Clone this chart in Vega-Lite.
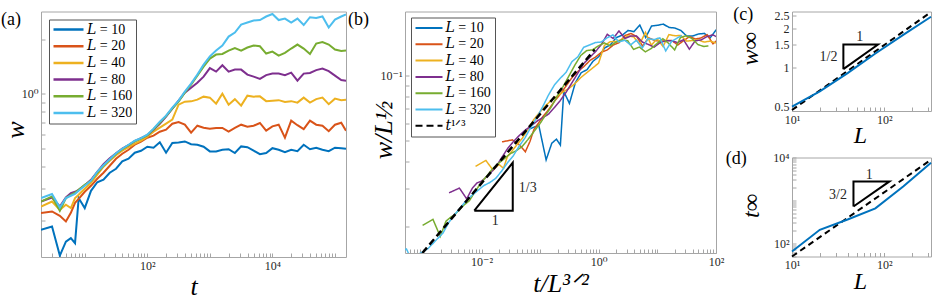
{
"$schema":"https://vega.github.io/schema/vega-lite/v6.json",
"padding":{"left":0,"top":4.5,"right":0,"bottom":0},
"spacing":0,
"bounds":"full",
"resolve":{"scale":{"color":"independent","strokeDash":"independent"}},
"config":{
 "view":{"stroke":"#a6a6a6","strokeWidth":1},
 "axis":{"domain":false,"grid":false,"tickColor":"#a6a6a6","tickSize":-4,"tickWidth":1,"labelFont":"Liberation Serif, DejaVu Serif, serif","labelFontSize":12,"labelColor":"#262626","labelPadding":7,"labelFlush":false,"labelOverlap":false,"labelBound":false,"titleFont":"Liberation Serif, DejaVu Serif, serif","titleFontStyle":"italic","titleFontWeight":"normal","titleFontSize":26,"titleColor":"#000000","titleBaseline":"alphabetic"},
 "title":{"font":"Liberation Serif, DejaVu Serif, serif","fontSize":18,"fontWeight":"normal","anchor":"start","frame":"group","baseline":"top","color":"#000000"},
 "legend":{"title":null,"symbolType":"stroke","symbolStrokeWidth":2,"labelFont":"Liberation Serif, DejaVu Serif, serif","labelFontSize":14,"labelColor":"#000000","fillColor":"#ffffff","strokeColor":"#555555","clipHeight":14,"labelOffset":2,"labelLimit":0}
},
"datasets":{
"curves":[
{"series":"L = 10","L":10,"t":2,"w":0.1779},{"series":"L = 10","L":10,"t":3,"w":0.1855},{"series":"L = 10","L":10,"t":4,"w":0.1283},{"series":"L = 10","L":10,"t":5,"w":0.1533},{"series":"L = 10","L":10,"t":6,"w":0.1601},{"series":"L = 10","L":10,"t":7,"w":0.1502},{"series":"L = 10","L":10,"t":8,"w":0.2663},{"series":"L = 10","L":10,"t":10,"w":0.2345},{"series":"L = 10","L":10,"t":12.59,"w":0.2922},{"series":"L = 10","L":10,"t":15.85,"w":0.3256},{"series":"L = 10","L":10,"t":19.95,"w":0.3362},{"series":"L = 10","L":10,"t":25.12,"w":0.3675},{"series":"L = 10","L":10,"t":31.62,"w":0.3867},{"series":"L = 10","L":10,"t":39.81,"w":0.4242},{"series":"L = 10","L":10,"t":50.12,"w":0.439},{"series":"L = 10","L":10,"t":63.1,"w":0.4739},{"series":"L = 10","L":10,"t":79.43,"w":0.4861},{"series":"L = 10","L":10,"t":100,"w":0.5115},{"series":"L = 10","L":10,"t":125.9,"w":0.505},{"series":"L = 10","L":10,"t":158.5,"w":0.5416},{"series":"L = 10","L":10,"t":199.5,"w":0.4739},{"series":"L = 10","L":10,"t":251.2,"w":0.5361},{"series":"L = 10","L":10,"t":316.2,"w":0.5402},{"series":"L = 10","L":10,"t":398.1,"w":0.5471},{"series":"L = 10","L":10,"t":501.2,"w":0.528},{"series":"L = 10","L":10,"t":631,"w":0.5246},{"series":"L = 10","L":10,"t":794.3,"w":0.5115},{"series":"L = 10","L":10,"t":1000,"w":0.4818},{"series":"L = 10","L":10,"t":1259,"w":0.4818},{"series":"L = 10","L":10,"t":1585,"w":0.4923},{"series":"L = 10","L":10,"t":1995,"w":0.4955},{"series":"L = 10","L":10,"t":2512,"w":0.4721},{"series":"L = 10","L":10,"t":3162,"w":0.5135},{"series":"L = 10","L":10,"t":3981,"w":0.5083},{"series":"L = 10","L":10,"t":5012,"w":0.4861},{"series":"L = 10","L":10,"t":6310,"w":0.465},{"series":"L = 10","L":10,"t":7943,"w":0.4721},{"series":"L = 10","L":10,"t":10000,"w":0.5019},{"series":"L = 10","L":10,"t":12589,"w":0.4923},{"series":"L = 10","L":10,"t":15849,"w":0.4769},{"series":"L = 10","L":10,"t":19953,"w":0.4923},{"series":"L = 10","L":10,"t":25119,"w":0.4831},{"series":"L = 10","L":10,"t":31623,"w":0.5246},{"series":"L = 10","L":10,"t":39811,"w":0.4955},{"series":"L = 10","L":10,"t":50119,"w":0.505},{"series":"L = 10","L":10,"t":63096,"w":0.4923},{"series":"L = 10","L":10,"t":79433,"w":0.4831},{"series":"L = 10","L":10,"t":100000,"w":0.505},{"series":"L = 10","L":10,"t":125893,"w":0.5019},{"series":"L = 10","L":10,"t":150000,"w":0.4987},
{"series":"L = 20","L":20,"t":2,"w":0.22},{"series":"L = 20","L":20,"t":3,"w":0.2246},{"series":"L = 20","L":20,"t":4,"w":0.2126},{"series":"L = 20","L":20,"t":5,"w":0.1978},{"series":"L = 20","L":20,"t":6,"w":0.2209},{"series":"L = 20","L":20,"t":7,"w":0.2508},{"series":"L = 20","L":20,"t":8,"w":0.2639},{"series":"L = 20","L":20,"t":10,"w":0.2885},{"series":"L = 20","L":20,"t":12.59,"w":0.3113},{"series":"L = 20","L":20,"t":15.85,"w":0.3404},{"series":"L = 20","L":20,"t":19.95,"w":0.3675},{"series":"L = 20","L":20,"t":25.12,"w":0.4018},{"series":"L = 20","L":20,"t":31.62,"w":0.439},{"series":"L = 20","L":20,"t":39.81,"w":0.468},{"series":"L = 20","L":20,"t":50.12,"w":0.4923},{"series":"L = 20","L":20,"t":63.1,"w":0.5246},{"series":"L = 20","L":20,"t":79.43,"w":0.5451},{"series":"L = 20","L":20,"t":100,"w":0.5736},{"series":"L = 20","L":20,"t":125.9,"w":0.5883},{"series":"L = 20","L":20,"t":158.5,"w":0.6191},{"series":"L = 20","L":20,"t":199.5,"w":0.6351},{"series":"L = 20","L":20,"t":251.2,"w":0.6853},{"series":"L = 20","L":20,"t":316.2,"w":0.7003},{"series":"L = 20","L":20,"t":398.1,"w":0.6767},{"series":"L = 20","L":20,"t":501.2,"w":0.6113},{"series":"L = 20","L":20,"t":631,"w":0.6681},{"series":"L = 20","L":20,"t":794.3,"w":0.6514},{"series":"L = 20","L":20,"t":1000,"w":0.6432},{"series":"L = 20","L":20,"t":1259,"w":0.649},{"series":"L = 20","L":20,"t":1585,"w":0.649},{"series":"L = 20","L":20,"t":1995,"w":0.6191},{"series":"L = 20","L":20,"t":2512,"w":0.649},{"series":"L = 20","L":20,"t":3162,"w":0.6767},{"series":"L = 20","L":20,"t":3981,"w":0.6597},{"series":"L = 20","L":20,"t":5012,"w":0.6681},{"series":"L = 20","L":20,"t":6310,"w":0.6915},{"series":"L = 20","L":20,"t":7943,"w":0.627},{"series":"L = 20","L":20,"t":10000,"w":0.6622},{"series":"L = 20","L":20,"t":12589,"w":0.6767},{"series":"L = 20","L":20,"t":15849,"w":0.5736},{"series":"L = 20","L":20,"t":19953,"w":0.712},{"series":"L = 20","L":20,"t":25119,"w":0.6723},{"series":"L = 20","L":20,"t":31623,"w":0.6391},{"series":"L = 20","L":20,"t":39811,"w":0.712},{"series":"L = 20","L":20,"t":50119,"w":0.6767},{"series":"L = 20","L":20,"t":63096,"w":0.6681},{"series":"L = 20","L":20,"t":79433,"w":0.6231},{"series":"L = 20","L":20,"t":100000,"w":0.6767},{"series":"L = 20","L":20,"t":125893,"w":0.6941},{"series":"L = 20","L":20,"t":150000,"w":0.627},
{"series":"L = 40","L":40,"t":2,"w":0.2393},{"series":"L = 40","L":40,"t":3,"w":0.2551},{"series":"L = 40","L":40,"t":4,"w":0.2295},{"series":"L = 40","L":40,"t":5,"w":0.2446},{"series":"L = 40","L":40,"t":6,"w":0.2345},{"series":"L = 40","L":40,"t":7,"w":0.2663},{"series":"L = 40","L":40,"t":8,"w":0.2778},{"series":"L = 40","L":40,"t":10,"w":0.2998},{"series":"L = 40","L":40,"t":12.59,"w":0.3236},{"series":"L = 40","L":40,"t":15.85,"w":0.3583},{"series":"L = 40","L":40,"t":19.95,"w":0.3966},{"series":"L = 40","L":40,"t":25.12,"w":0.428},{"series":"L = 40","L":40,"t":31.62,"w":0.4592},{"series":"L = 40","L":40,"t":39.81,"w":0.4861},{"series":"L = 40","L":40,"t":50.12,"w":0.5083},{"series":"L = 40","L":40,"t":63.1,"w":0.5313},{"series":"L = 40","L":40,"t":79.43,"w":0.5521},{"series":"L = 40","L":40,"t":100,"w":0.5809},{"series":"L = 40","L":40,"t":125.9,"w":0.6191},{"series":"L = 40","L":40,"t":158.5,"w":0.6514},{"series":"L = 40","L":40,"t":199.5,"w":0.6853},{"series":"L = 40","L":40,"t":251.2,"w":0.7211},{"series":"L = 40","L":40,"t":316.2,"w":0.8728},{"series":"L = 40","L":40,"t":398.1,"w":0.9067},{"series":"L = 40","L":40,"t":501.2,"w":0.9101},{"series":"L = 40","L":40,"t":631,"w":0.9301},{"series":"L = 40","L":40,"t":794.3,"w":0.9663},{"series":"L = 40","L":40,"t":1000,"w":0.9541},{"series":"L = 40","L":40,"t":1259,"w":0.8839},{"series":"L = 40","L":40,"t":1585,"w":1.0025},{"series":"L = 40","L":40,"t":1995,"w":0.8728},{"series":"L = 40","L":40,"t":2512,"w":0.936},{"series":"L = 40","L":40,"t":3162,"w":0.8619},{"series":"L = 40","L":40,"t":3981,"w":0.9786},{"series":"L = 40","L":40,"t":5012,"w":0.9663},{"series":"L = 40","L":40,"t":6310,"w":0.9699},{"series":"L = 40","L":40,"t":7943,"w":0.9125},{"series":"L = 40","L":40,"t":10000,"w":0.9183},{"series":"L = 40","L":40,"t":12589,"w":0.9241},{"series":"L = 40","L":40,"t":15849,"w":0.9033},{"series":"L = 40","L":40,"t":19953,"w":0.9125},{"series":"L = 40","L":40,"t":25119,"w":0.8953},{"series":"L = 40","L":40,"t":31623,"w":0.9541},{"series":"L = 40","L":40,"t":39811,"w":0.8953},{"series":"L = 40","L":40,"t":50119,"w":0.936},{"series":"L = 40","L":40,"t":63096,"w":0.9541},{"series":"L = 40","L":40,"t":79433,"w":0.8783},{"series":"L = 40","L":40,"t":100000,"w":0.942},{"series":"L = 40","L":40,"t":125893,"w":0.9241},{"series":"L = 40","L":40,"t":150000,"w":0.9301},
{"series":"L = 80","L":80,"t":2,"w":0.2551},{"series":"L = 80","L":80,"t":3,"w":0.2684},{"series":"L = 80","L":80,"t":4,"w":0.2393},{"series":"L = 80","L":80,"t":5,"w":0.2684},{"series":"L = 80","L":80,"t":6,"w":0.2838},{"series":"L = 80","L":80,"t":7,"w":0.2885},{"series":"L = 80","L":80,"t":8,"w":0.296},{"series":"L = 80","L":80,"t":10,"w":0.3134},{"series":"L = 80","L":80,"t":12.59,"w":0.3362},{"series":"L = 80","L":80,"t":15.85,"w":0.3721},{"series":"L = 80","L":80,"t":19.95,"w":0.4095},{"series":"L = 80","L":80,"t":25.12,"w":0.4419},{"series":"L = 80","L":80,"t":31.62,"w":0.471},{"series":"L = 80","L":80,"t":39.81,"w":0.4987},{"series":"L = 80","L":80,"t":50.12,"w":0.5213},{"series":"L = 80","L":80,"t":63.1,"w":0.5486},{"series":"L = 80","L":80,"t":79.43,"w":0.5699},{"series":"L = 80","L":80,"t":100,"w":0.5921},{"series":"L = 80","L":80,"t":125.9,"w":0.6351},{"series":"L = 80","L":80,"t":158.5,"w":0.6853},{"series":"L = 80","L":80,"t":199.5,"w":0.7492},{"series":"L = 80","L":80,"t":251.2,"w":0.8295},{"series":"L = 80","L":80,"t":316.2,"w":0.9183},{"series":"L = 80","L":80,"t":398.1,"w":1.017},{"series":"L = 80","L":80,"t":501.2,"w":1.083},{"series":"L = 80","L":80,"t":631,"w":1.154},{"series":"L = 80","L":80,"t":794.3,"w":1.246},{"series":"L = 80","L":80,"t":1000,"w":1.388},{"series":"L = 80","L":80,"t":1259,"w":1.328},{"series":"L = 80","L":80,"t":1585,"w":1.439},{"series":"L = 80","L":80,"t":1995,"w":1.328},{"series":"L = 80","L":80,"t":2512,"w":1.362},{"series":"L = 80","L":80,"t":3162,"w":1.362},{"series":"L = 80","L":80,"t":3981,"w":1.278},{"series":"L = 80","L":80,"t":5012,"w":1.246},{"series":"L = 80","L":80,"t":6310,"w":1.21},{"series":"L = 80","L":80,"t":7943,"w":1.27},{"series":"L = 80","L":80,"t":10000,"w":1.295},{"series":"L = 80","L":80,"t":12589,"w":1.295},{"series":"L = 80","L":80,"t":15849,"w":1.27},{"series":"L = 80","L":80,"t":19953,"w":1.311},{"series":"L = 80","L":80,"t":25119,"w":1.184},{"series":"L = 80","L":80,"t":31623,"w":1.295},{"series":"L = 80","L":80,"t":39811,"w":1.306},{"series":"L = 80","L":80,"t":50119,"w":1.354},{"series":"L = 80","L":80,"t":63096,"w":1.38},{"series":"L = 80","L":80,"t":79433,"w":1.336},{"series":"L = 80","L":80,"t":100000,"w":1.262},{"series":"L = 80","L":80,"t":125893,"w":1.192},{"series":"L = 80","L":80,"t":150000,"w":1.184},
{"series":"L = 160","L":160,"t":2,"w":0.2551},{"series":"L = 160","L":160,"t":3,"w":0.2719},{"series":"L = 160","L":160,"t":4,"w":0.2265},{"series":"L = 160","L":160,"t":5,"w":0.2663},{"series":"L = 160","L":160,"t":6,"w":0.2778},{"series":"L = 160","L":160,"t":7,"w":0.285},{"series":"L = 160","L":160,"t":8,"w":0.296},{"series":"L = 160","L":160,"t":10,"w":0.3154},{"series":"L = 160","L":160,"t":12.59,"w":0.3319},{"series":"L = 160","L":160,"t":15.85,"w":0.3675},{"series":"L = 160","L":160,"t":19.95,"w":0.4018},{"series":"L = 160","L":160,"t":25.12,"w":0.4335},{"series":"L = 160","L":160,"t":31.62,"w":0.468},{"series":"L = 160","L":160,"t":39.81,"w":0.4955},{"series":"L = 160","L":160,"t":50.12,"w":0.5213},{"series":"L = 160","L":160,"t":63.1,"w":0.5486},{"series":"L = 160","L":160,"t":79.43,"w":0.5662},{"series":"L = 160","L":160,"t":100,"w":0.5921},{"series":"L = 160","L":160,"t":125.9,"w":0.6391},{"series":"L = 160","L":160,"t":158.5,"w":0.6941},{"series":"L = 160","L":160,"t":199.5,"w":0.754},{"series":"L = 160","L":160,"t":251.2,"w":0.8295},{"series":"L = 160","L":160,"t":316.2,"w":0.9067},{"series":"L = 160","L":160,"t":398.1,"w":1.017},{"series":"L = 160","L":160,"t":501.2,"w":1.126},{"series":"L = 160","L":160,"t":631,"w":1.262},{"series":"L = 160","L":160,"t":794.3,"w":1.415},{"series":"L = 160","L":160,"t":1000,"w":1.567},{"series":"L = 160","L":160,"t":1259,"w":1.649},{"series":"L = 160","L":160,"t":1585,"w":1.663},{"series":"L = 160","L":160,"t":1995,"w":1.735},{"series":"L = 160","L":160,"t":2512,"w":1.791},{"series":"L = 160","L":160,"t":3162,"w":1.735},{"series":"L = 160","L":160,"t":3981,"w":1.803},{"series":"L = 160","L":160,"t":5012,"w":1.849},{"series":"L = 160","L":160,"t":6310,"w":1.832},{"series":"L = 160","L":160,"t":7943,"w":1.67},{"series":"L = 160","L":160,"t":10000,"w":1.713},{"series":"L = 160","L":160,"t":12589,"w":1.628},{"series":"L = 160","L":160,"t":15849,"w":1.685},{"series":"L = 160","L":160,"t":19953,"w":1.78},{"series":"L = 160","L":160,"t":25119,"w":1.873},{"series":"L = 160","L":160,"t":31623,"w":1.78},{"series":"L = 160","L":160,"t":39811,"w":1.66},{"series":"L = 160","L":160,"t":50119,"w":1.896},{"series":"L = 160","L":160,"t":63096,"w":1.933},{"series":"L = 160","L":160,"t":79433,"w":1.873},{"series":"L = 160","L":160,"t":100000,"w":1.757},{"series":"L = 160","L":160,"t":125893,"w":1.724},{"series":"L = 160","L":160,"t":150000,"w":1.735},
{"series":"L = 320","L":320,"t":2,"w":0.2663},{"series":"L = 320","L":320,"t":3,"w":0.2803},{"series":"L = 320","L":320,"t":4,"w":0.2363},{"series":"L = 320","L":320,"t":5,"w":0.2663},{"series":"L = 320","L":320,"t":6,"w":0.2743},{"series":"L = 320","L":320,"t":7,"w":0.2813},{"series":"L = 320","L":320,"t":8,"w":0.2922},{"series":"L = 320","L":320,"t":10,"w":0.3113},{"series":"L = 320","L":320,"t":12.59,"w":0.3319},{"series":"L = 320","L":320,"t":15.85,"w":0.3721},{"series":"L = 320","L":320,"t":19.95,"w":0.4043},{"series":"L = 320","L":320,"t":25.12,"w":0.4363},{"series":"L = 320","L":320,"t":31.62,"w":0.471},{"series":"L = 320","L":320,"t":39.81,"w":0.4987},{"series":"L = 320","L":320,"t":50.12,"w":0.5246},{"series":"L = 320","L":320,"t":63.1,"w":0.5521},{"series":"L = 320","L":320,"t":79.43,"w":0.5699},{"series":"L = 320","L":320,"t":100,"w":0.5958},{"series":"L = 320","L":320,"t":125.9,"w":0.6432},{"series":"L = 320","L":320,"t":158.5,"w":0.7031},{"series":"L = 320","L":320,"t":199.5,"w":0.7588},{"series":"L = 320","L":320,"t":251.2,"w":0.8401},{"series":"L = 320","L":320,"t":316.2,"w":0.9183},{"series":"L = 320","L":320,"t":398.1,"w":1.03},{"series":"L = 320","L":320,"t":501.2,"w":1.14},{"series":"L = 320","L":320,"t":631,"w":1.278},{"series":"L = 320","L":320,"t":794.3,"w":1.451},{"series":"L = 320","L":320,"t":1000,"w":1.613},{"series":"L = 320","L":320,"t":1259,"w":1.735},{"series":"L = 320","L":320,"t":1585,"w":1.849},{"series":"L = 320","L":320,"t":1995,"w":2.073},{"series":"L = 320","L":320,"t":2512,"w":2.182},{"series":"L = 320","L":320,"t":3162,"w":2.415},{"series":"L = 320","L":320,"t":3981,"w":2.477},{"series":"L = 320","L":320,"t":5012,"w":2.541},{"series":"L = 320","L":320,"t":6310,"w":2.557},{"series":"L = 320","L":320,"t":7943,"w":2.674},{"series":"L = 320","L":320,"t":10000,"w":2.76},{"series":"L = 320","L":320,"t":12589,"w":2.557},{"series":"L = 320","L":320,"t":15849,"w":2.606},{"series":"L = 320","L":320,"t":19953,"w":2.477},{"series":"L = 320","L":320,"t":25119,"w":2.606},{"series":"L = 320","L":320,"t":31623,"w":2.399},{"series":"L = 320","L":320,"t":39811,"w":2.65},{"series":"L = 320","L":320,"t":50119,"w":2.623},{"series":"L = 320","L":320,"t":63096,"w":2.674},{"series":"L = 320","L":320,"t":79433,"w":2.325},{"series":"L = 320","L":320,"t":100000,"w":2.573},{"series":"L = 320","L":320,"t":125893,"w":2.674},{"series":"L = 320","L":320,"t":150000,"w":2.743}
],
"b_fit":[{"series":"t¹ᐟ³","x":0.00098,"y":0.015},{"series":"t¹ᐟ³","x":0.855,"y":0.132}],
"b_tri":[{"k":0,"x":0.00753,"y":0.02357},{"k":1,"x":0.0341,"y":0.02357},{"k":2,"x":0.0341,"y":0.03937},{"k":3,"x":0.00753,"y":0.02357}],
"b_txt":[{"x":0.0616,"y":0.0302,"label":"1/3"},{"x":0.0172,"y":0.0212,"label":"1"}],
"c_sim":[{"L":10,"w":0.5},{"L":20,"w":0.655},{"L":40,"w":0.905},{"L":80,"w":1.28},{"L":160,"w":1.78},{"L":320,"w":2.45}],
"c_fit":[{"L":10,"w":0.471},{"L":320,"w":2.66}],
"c_tri":[{"k":0,"L":36,"w":0.97},{"k":1,"L":36,"w":1.5},{"k":2,"L":85.3,"w":1.5},{"k":3,"L":36,"w":0.97}],
"c_txt":[{"L":54.2,"w":1.72,"label":"1"},{"L":24.8,"w":1.2,"label":"1/2"}],
"d_sim":[{"L":10,"t":64},{"L":20,"t":205},{"L":40,"t":358},{"L":80,"t":650},{"L":160,"t":2113},{"L":320,"t":7500}],
"d_fit":[{"L":10,"t":48.9},{"L":320,"t":8852}],
"d_tri":[{"k":0,"L":46.3,"t":720},{"k":1,"L":46.3,"t":2767},{"k":2,"L":113.6,"t":2767},{"k":3,"L":46.3,"t":720}],
"d_txt":[{"L":68.5,"t":3963,"label":"1"},{"L":31.5,"t":1352,"label":"3/2"}]
},
"hconcat":[
{
 "width":305,"height":245.5,
 "title":{"text":"(a)","dx":-40,"offset":-17},
 "data":{"name":"curves"},
 "mark":{"type":"line","strokeWidth":2,"clip":true},
 "encoding":{
  "x":{"field":"t","type":"quantitative","scale":{"type":"log","domain":[2,150000],"nice":false},"axis":{"title":"t","titleX":152.5,"titleY":37,"values":[3,4,5,6,7,8,9,10,20,30,40,50,60,70,80,90,100,200,300,400,500,600,700,800,900,1000,2000,3000,4000,5000,6000,7000,8000,9000,10000,20000,30000,40000,50000,60000,70000,80000,90000,100000],"labelExpr":"datum.value == 100 ? '10²' : datum.value == 10000 ? '10⁴' : ''"}},
  "y":{"field":"w","type":"quantitative","scale":{"type":"log","domain":[0.126,2.85],"nice":false},"axis":{"title":"w","titleX":-18,"titleY":118,"values":[0.2,0.3,0.4,0.5,0.6,0.7,0.8,0.9,1,2],"labelExpr":"datum.value == 1 ? '10⁰' : ''"}},
  "color":{"field":"series","type":"nominal","scale":{"domain":["L = 10","L = 20","L = 40","L = 80","L = 160","L = 320"],"range":["#0072BD","#D95319","#EDB120","#7E2F8E","#77AC30","#4DBEEE"]},"legend":{"orient":"top-left","offset":8,"padding":3,"rowPadding":2.7,"symbolSize":900,"symbolStrokeWidth":2.5,"labelExpr":"replace(datum.label, 'L', '𝐿')"}}
 }
},
{
 "width":311,"height":241.5,
 "title":{"text":"\u00a0\u00a0\u200a(b)","dx":-57,"offset":-17},
 "resolve":{"scale":{"x":"independent","y":"independent"}},
 "layer":[
  {"data":{"name":"curves"},"transform":[{"filter":"datum.L == 10"}],"mark":{"type":"line","strokeWidth":1.5,"clip":true},
   "encoding":{"x":{"field":"t","type":"quantitative","scale":{"type":"log","domain":[0.015653,3162.3],"nice":false},"axis":null},"y":{"field":"w","type":"quantitative","scale":{"type":"log","domain":[0.047434,0.62613],"nice":false},"axis":null},
   "color":{"field":"series","type":"nominal","scale":{"domain":["L = 10","L = 20","L = 40","L = 80","L = 160","L = 320","t¹ᐟ³"],"range":["#0072BD","#D95319","#EDB120","#7E2F8E","#77AC30","#4DBEEE","#000000"]},"legend":{"orient":"top-left","offset":6,"padding":3.5,"rowPadding":2.3,"symbolSize":729,"symbolStrokeWidth":2,"labelExpr":"replace(replace(datum.label, 'L', '𝐿'), 't', '𝑡')"}},
   "strokeDash":{"field":"series","type":"nominal","scale":{"domain":["L = 10","L = 20","L = 40","L = 80","L = 160","L = 320","t¹ᐟ³"],"range":[[1,0],[1,0],[1,0],[1,0],[1,0],[1,0],[7,4]]},"legend":{"orient":"top-left","offset":6,"padding":3.5,"rowPadding":2.3,"symbolSize":729,"symbolStrokeWidth":2,"labelExpr":"replace(replace(datum.label, 'L', '𝐿'), 't', '𝑡')"}}}},
  {"data":{"name":"curves"},"transform":[{"filter":"datum.L == 20"}],"mark":{"type":"line","strokeWidth":1.5,"clip":true},
   "encoding":{"x":{"field":"t","type":"quantitative","scale":{"type":"log","domain":[0.044274,8944.3],"nice":false},"axis":null},"y":{"field":"w","type":"quantitative","scale":{"type":"log","domain":[0.067082,0.88548],"nice":false},"axis":null},
   "color":{"field":"series","type":"nominal"},"strokeDash":{"field":"series","type":"nominal"}}},
  {"data":{"name":"curves"},"transform":[{"filter":"datum.L == 40"}],"mark":{"type":"line","strokeWidth":1.5,"clip":true},
   "encoding":{"x":{"field":"t","type":"quantitative","scale":{"type":"log","domain":[0.12523,25298],"nice":false},"axis":null},"y":{"field":"w","type":"quantitative","scale":{"type":"log","domain":[0.094868,1.25227],"nice":false},"axis":null},
   "color":{"field":"series","type":"nominal"},"strokeDash":{"field":"series","type":"nominal"}}},
  {"data":{"name":"curves"},"transform":[{"filter":"datum.L == 80"}],"mark":{"type":"line","strokeWidth":1.5,"clip":true},
   "encoding":{"x":{"field":"t","type":"quantitative","scale":{"type":"log","domain":[0.3542,71554],"nice":false},"axis":null},"y":{"field":"w","type":"quantitative","scale":{"type":"log","domain":[0.13416,1.77097],"nice":false},"axis":null},
   "color":{"field":"series","type":"nominal"},"strokeDash":{"field":"series","type":"nominal"}}},
  {"data":{"name":"curves"},"transform":[{"filter":"datum.L == 160"}],"mark":{"type":"line","strokeWidth":1.5,"clip":true},
   "encoding":{"x":{"field":"t","type":"quantitative","scale":{"type":"log","domain":[1.0018,202386],"nice":false},"axis":null},"y":{"field":"w","type":"quantitative","scale":{"type":"log","domain":[0.18974,2.50452],"nice":false},"axis":null},
   "color":{"field":"series","type":"nominal"},"strokeDash":{"field":"series","type":"nominal"}}},
  {"data":{"name":"curves"},"transform":[{"filter":"datum.L == 320"}],"mark":{"type":"line","strokeWidth":1.5,"clip":true},
   "encoding":{"x":{"field":"t","type":"quantitative","scale":{"type":"log","domain":[2.83353,572433],"nice":false},"axis":null},"y":{"field":"w","type":"quantitative","scale":{"type":"log","domain":[0.26833,3.54203],"nice":false},"axis":null},
   "color":{"field":"series","type":"nominal"},"strokeDash":{"field":"series","type":"nominal"}}},
  {"data":{"name":"b_fit"},"mark":{"type":"line","strokeWidth":2.5,"clip":true},
   "encoding":{"x":{"field":"x","type":"quantitative","scale":{"type":"log","domain":[0.000495,100],"nice":false},"axis":{"title":"t/L³ᐟ²","titleX":155.5,"titleY":38,"values":[0.0006,0.0007,0.0008,0.0009,0.001,0.002,0.003,0.004,0.005,0.006,0.007,0.008,0.009,0.01,0.02,0.03,0.04,0.05,0.06,0.07,0.08,0.09,0.1,0.2,0.3,0.4,0.5,0.6,0.7,0.8,0.9,1,2,3,4,5,6,7,8,9,10,20,30,40,50,60,70,80,90,100],"labelExpr":"datum.value == 0.01 ? '10⁻²' : datum.value == 1 ? '10⁰' : datum.value == 100 ? '10²' : ''"}},
   "y":{"field":"y","type":"quantitative","scale":{"type":"log","domain":[0.015,0.198],"nice":false},"axis":{"title":"w/L½","titleX":-14,"titleY":118,"values":[0.02,0.03,0.04,0.05,0.06,0.07,0.08,0.09,0.1],"labelExpr":"datum.value == 0.1 ? '10⁻¹' : ''"}},
   "color":{"field":"series","type":"nominal"},"strokeDash":{"field":"series","type":"nominal"}}},
  {"data":{"name":"b_tri"},"mark":{"type":"line","strokeWidth":2,"color":"#000000"},
   "encoding":{"x":{"field":"x","type":"quantitative","scale":{"type":"log","domain":[0.000495,100],"nice":false},"axis":null},"y":{"field":"y","type":"quantitative","scale":{"type":"log","domain":[0.015,0.198],"nice":false},"axis":null},"order":{"field":"k","type":"quantitative"}}},
  {"data":{"name":"b_txt"},"mark":{"type":"text","font":"Liberation Serif, DejaVu Serif, serif","fontSize":14,"color":"#262626"},
   "encoding":{"x":{"field":"x","type":"quantitative","scale":{"type":"log","domain":[0.000495,100],"nice":false},"axis":null},"y":{"field":"y","type":"quantitative","scale":{"type":"log","domain":[0.015,0.198],"nice":false},"axis":null},"text":{"field":"label"}}}
 ]
},
{
 "spacing":1,
 "vconcat":[
  {
   "width":139,"height":99.5,
   "title":{"text":"(c)","dx":-58.7,"offset":-15.5},
   "layer":[
    {"data":{"name":"c_fit"},"mark":{"type":"line","color":"#000000","strokeWidth":2,"strokeDash":[6,4]},"encoding":{"x":{"field":"L","type":"quantitative","scale":{"type":"log","domain":[10,320],"nice":false},"axis":{"title":"L","titleFontSize":24,"titleX":68,"titleY":31,"values":[10,20,30,40,50,60,70,80,90,100,200,300],"labelExpr":"datum.value == 10 ? '10¹' : datum.value == 100 ? '10²' : ''"}},"y":{"field":"w","type":"quantitative","scale":{"type":"log","domain":[0.463,2.687],"nice":false},"axis":{"title":"w∞","titleFontSize":24,"titleX":-35,"titleY":37,"values":[0.5,1,1.5,2,2.5],"labelExpr":"format(datum.value, '~g')"}}}},
    {"data":{"name":"c_sim"},"mark":{"type":"line","color":"#0072BD","strokeWidth":2},"encoding":{"x":{"field":"L","type":"quantitative"},"y":{"field":"w","type":"quantitative"}}},
    {"data":{"name":"c_tri"},"mark":{"type":"line","color":"#000000","strokeWidth":2},"encoding":{"x":{"field":"L","type":"quantitative"},"y":{"field":"w","type":"quantitative"},"order":{"field":"k","type":"quantitative"}}},
    {"data":{"name":"c_txt"},"mark":{"type":"text","font":"Liberation Serif, DejaVu Serif, serif","fontSize":14,"color":"#262626"},"encoding":{"x":{"field":"L","type":"quantitative"},"y":{"field":"w","type":"quantitative"},"text":{"field":"label"}}}
   ]
  },
  {
   "width":139,"height":99,
   "title":{"text":"(d)","dx":-66.2,"offset":-16},
   "layer":[
    {"data":{"name":"d_fit"},"mark":{"type":"line","color":"#000000","strokeWidth":2,"strokeDash":[6,4]},"encoding":{"x":{"field":"L","type":"quantitative","scale":{"type":"log","domain":[10,320],"nice":false},"axis":{"title":"L","titleFontSize":24,"titleX":68,"titleY":32,"values":[10,20,30,40,50,60,70,80,90,100,200,300],"labelExpr":"datum.value == 10 ? '10¹' : datum.value == 100 ? '10²' : ''"}},"y":{"field":"t","type":"quantitative","scale":{"type":"log","domain":[48.9,10000],"nice":false},"axis":{"title":"t∞","titleFontSize":24,"titleX":-34,"titleY":48,"values":[50,60,70,80,90,100,200,300,400,500,600,700,800,900,1000,2000,3000,4000,5000,6000,7000,8000,9000,10000],"labelExpr":"datum.value == 100 ? '10²' : datum.value == 10000 ? '10⁴' : ''"}}}},
    {"data":{"name":"d_sim"},"mark":{"type":"line","color":"#0072BD","strokeWidth":2},"encoding":{"x":{"field":"L","type":"quantitative"},"y":{"field":"t","type":"quantitative"}}},
    {"data":{"name":"d_tri"},"mark":{"type":"line","color":"#000000","strokeWidth":2},"encoding":{"x":{"field":"L","type":"quantitative"},"y":{"field":"t","type":"quantitative"},"order":{"field":"k","type":"quantitative"}}},
    {"data":{"name":"d_txt"},"mark":{"type":"text","font":"Liberation Serif, DejaVu Serif, serif","fontSize":14,"color":"#262626"},"encoding":{"x":{"field":"L","type":"quantitative"},"y":{"field":"t","type":"quantitative"},"text":{"field":"label"}}}
   ]
  }
 ]
}
]
}
